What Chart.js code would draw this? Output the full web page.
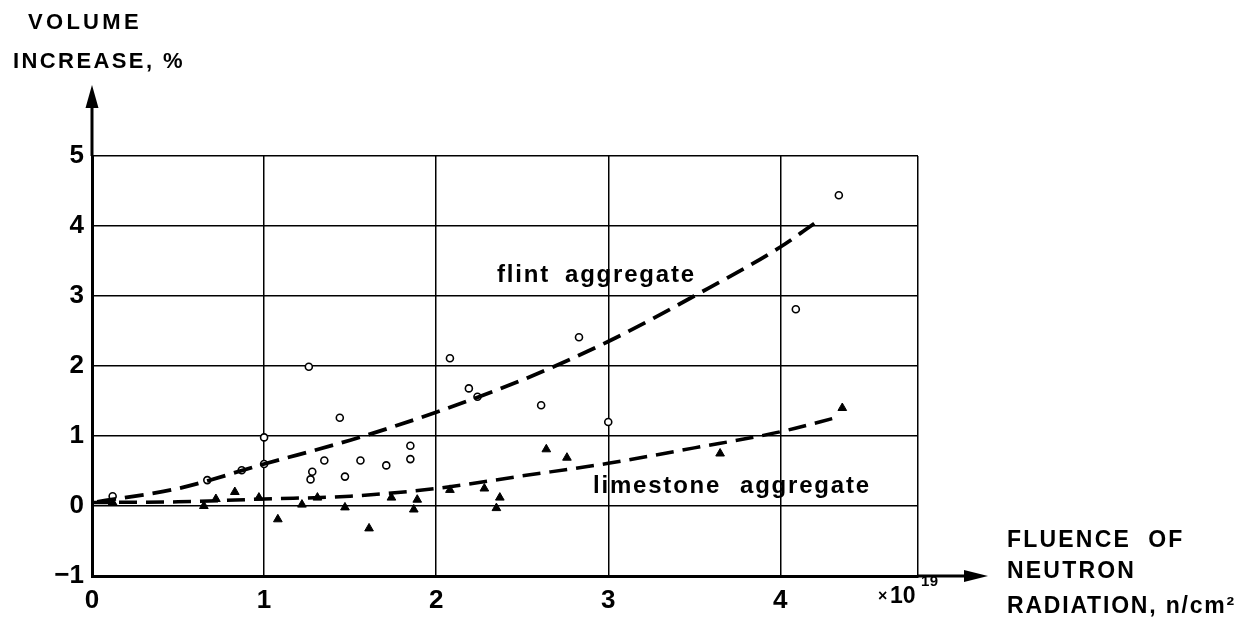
<!DOCTYPE html>
<html>
<head>
<meta charset="utf-8">
<title>Volume increase vs neutron fluence</title>
<script src="https://cdn.jsdelivr.net/npm/chart.js@4"></script>
<style>
    html, body { margin: 0; padding: 0; background: #fff; }
    #chart { display: block; }
</style>
</head>
<body>
<canvas id="chart" width="1258" height="632"></canvas>
<script>
// Measured points, flint aggregate (open circles)
const flintX = [0.12, 0.67, 0.87, 1.0, 1.0, 1.26, 1.27, 1.28, 1.35, 1.44, 1.47, 1.56, 1.71, 1.85, 1.85, 2.08, 2.19, 2.24, 2.61, 2.83, 3.0, 4.09, 4.34];
const flintY = [0.14, 0.37, 0.51, 0.6, 0.98, 1.99, 0.38, 0.49, 0.65, 1.26, 0.42, 0.65, 0.58, 0.86, 0.67, 2.11, 1.68, 1.56, 1.44, 2.41, 1.2, 2.81, 4.44];

// Measured points, limestone aggregate (filled triangles)
const limeX = [0.12, 0.65, 0.72, 0.83, 0.97, 1.08, 1.22, 1.31, 1.47, 1.61, 1.74, 1.87, 1.89, 2.08, 2.28, 2.35, 2.37, 2.64, 2.76, 3.65, 4.36];
const limeY = [0.05, 0.0, 0.1, 0.2, 0.12, -0.19, 0.02, 0.12, -0.02, -0.32, 0.12, -0.05, 0.09, 0.23, 0.25, -0.03, 0.12, 0.81, 0.69, 0.75, 1.4];

// Dashed trend curves
const flintFitX = [0.03, 0.5, 1, 1.5, 2, 2.5, 3, 3.5, 4, 4.2];
const flintFitY = [0.06, 0.25, 0.6, 0.94, 1.34, 1.8, 2.35, 3.0, 3.7, 4.04];
const limeFitX = [0, 0.5, 1, 1.5, 2, 2.5, 3, 3.5, 4, 4.35];
const limeFitY = [0.05, 0.06, 0.1, 0.14, 0.25, 0.43, 0.61, 0.83, 1.06, 1.28];

// Axis ticks
const xTicks = [0, 1, 2, 3, 4];
const yTicks = [-1, 0, 1, 2, 3, 4, 5];
const xMax = 4.8;

const FONT = '"Liberation Sans", Arial, Helvetica, sans-serif';

function toPoints(xs, ys) {
    return xs.map((x, i) => ({ x: x, y: ys[i] }));
}

// Arrows, axis titles and curve labels
const annotations = {
    id: 'annotations',
    afterDraw(chart) {
        const ctx = chart.ctx;
        const area = chart.chartArea;
        ctx.save();
        ctx.fillStyle = '#000';
        ctx.strokeStyle = '#000';

        // y axis extension + arrow head
        ctx.lineWidth = 3;
        ctx.beginPath();
        ctx.moveTo(area.left, area.top);
        ctx.lineTo(area.left, 106);
        ctx.stroke();
        ctx.beginPath();
        ctx.moveTo(area.left, 85);
        ctx.lineTo(area.left - 6.5, 108);
        ctx.lineTo(area.left + 6.5, 108);
        ctx.closePath();
        ctx.fill();

        // x axis extension + arrow head
        ctx.beginPath();
        ctx.moveTo(area.right, area.bottom);
        ctx.lineTo(966, area.bottom);
        ctx.stroke();
        ctx.beginPath();
        ctx.moveTo(988, area.bottom);
        ctx.lineTo(964, area.bottom - 6);
        ctx.lineTo(964, area.bottom + 6);
        ctx.closePath();
        ctx.fill();

        ctx.textBaseline = 'alphabetic';
        ctx.textAlign = 'left';

        function text(str, x, y, size, spacing) {
            ctx.font = 'bold ' + size + 'px ' + FONT;
            ctx.letterSpacing = (spacing || 0) + 'px';
            ctx.fillText(str, x, y);
        }

        // y axis title
        text('VOLUME', 28, 29, 22, 3.3);
        text('INCREASE, %', 13, 68, 22, 2.4);

        // x axis title
        text('FLUENCE  OF', 1007, 547, 23, 2.2);
        text('NEUTRON', 1007, 578, 23, 2.2);
        text('RADIATION, n/cm²', 1007, 613, 23, 1.8);

        // multiplier
        text('×', 878, 601, 16, 0);
        text('10', 890, 603, 23, 0);
        text('19', 921, 586, 15, 0.5);

        // curve labels
        text('flint', 497, 282, 24, 1.8);
        text('aggregate', 565, 282, 24, 1.8);
        text('limestone', 593, 493, 24, 1.8);
        text('aggregate', 740, 493, 24, 1.8);

        ctx.restore();
    }
};

document.addEventListener('DOMContentLoaded', function() {
    const canvas = document.getElementById('chart');

    new Chart(canvas, {
        type: 'scatter',
        data: {
            datasets: [
                {
                    label: 'flint aggregate fit',
                    data: toPoints(flintFitX, flintFitY),
                    showLine: true,
                    borderColor: '#000',
                    borderWidth: 3.8,
                    borderDash: [19, 9],
                    cubicInterpolationMode: 'monotone',
                    pointRadius: 0,
                    fill: false
                },
                {
                    label: 'limestone aggregate fit',
                    data: toPoints(limeFitX, limeFitY),
                    showLine: true,
                    borderColor: '#000',
                    borderWidth: 3.5,
                    borderDash: [18, 9],
                    cubicInterpolationMode: 'monotone',
                    pointRadius: 0,
                    fill: false
                },
                {
                    label: 'flint aggregate',
                    data: toPoints(flintX, flintY),
                    pointStyle: 'circle',
                    pointRadius: 3.5,
                    pointBackgroundColor: '#fff',
                    pointBorderColor: '#000',
                    pointBorderWidth: 1.6
                },
                {
                    label: 'limestone aggregate',
                    data: toPoints(limeX, limeY),
                    pointStyle: 'triangle',
                    pointRadius: 5,
                    pointBackgroundColor: '#000',
                    pointBorderColor: '#000',
                    pointBorderWidth: 1
                }
            ]
        },
        options: {
            responsive: false,
            animation: false,
            devicePixelRatio: 1,
            layout: {
                padding: { top: 156, right: 340, left: 0, bottom: 0 }
            },
            plugins: {
                legend: { display: false },
                tooltip: { enabled: false }
            },
            scales: {
                x: {
                    type: 'linear',
                    min: 0,
                    max: xMax,
                    afterBuildTicks: function(scale) {
                        scale.ticks = xTicks.concat([xMax]).map(v => ({ value: v }));
                    },
                    afterFit: function(scale) {
                        scale.height = 56;
                    },
                    grid: {
                        color: '#000',
                        lineWidth: 1.5,
                        drawTicks: false
                    },
                    border: { display: true, color: '#000', width: 3 },
                    ticks: {
                        color: '#000',
                        padding: 9,
                        maxRotation: 0,
                        font: { family: FONT, size: 26, weight: 'bold' },
                        callback: function(value) {
                            return xTicks.includes(value) ? String(value) : '';
                        }
                    }
                },
                y: {
                    type: 'linear',
                    min: -1,
                    max: 5,
                    afterBuildTicks: function(scale) {
                        scale.ticks = yTicks.map(v => ({ value: v }));
                    },
                    afterFit: function(scale) {
                        scale.width = 92;
                    },
                    grid: {
                        color: '#000',
                        lineWidth: 1.5,
                        drawTicks: false
                    },
                    border: { display: true, color: '#000', width: 3 },
                    ticks: {
                        color: '#000',
                        padding: 8,
                        font: { family: FONT, size: 26, weight: 'bold' },
                        callback: function(value) {
                            return value < 0 ? '\u2212' + Math.abs(value) : String(value);
                        }
                    }
                }
            }
        },
        plugins: [annotations]
    });
});
</script>
</body>
</html>
